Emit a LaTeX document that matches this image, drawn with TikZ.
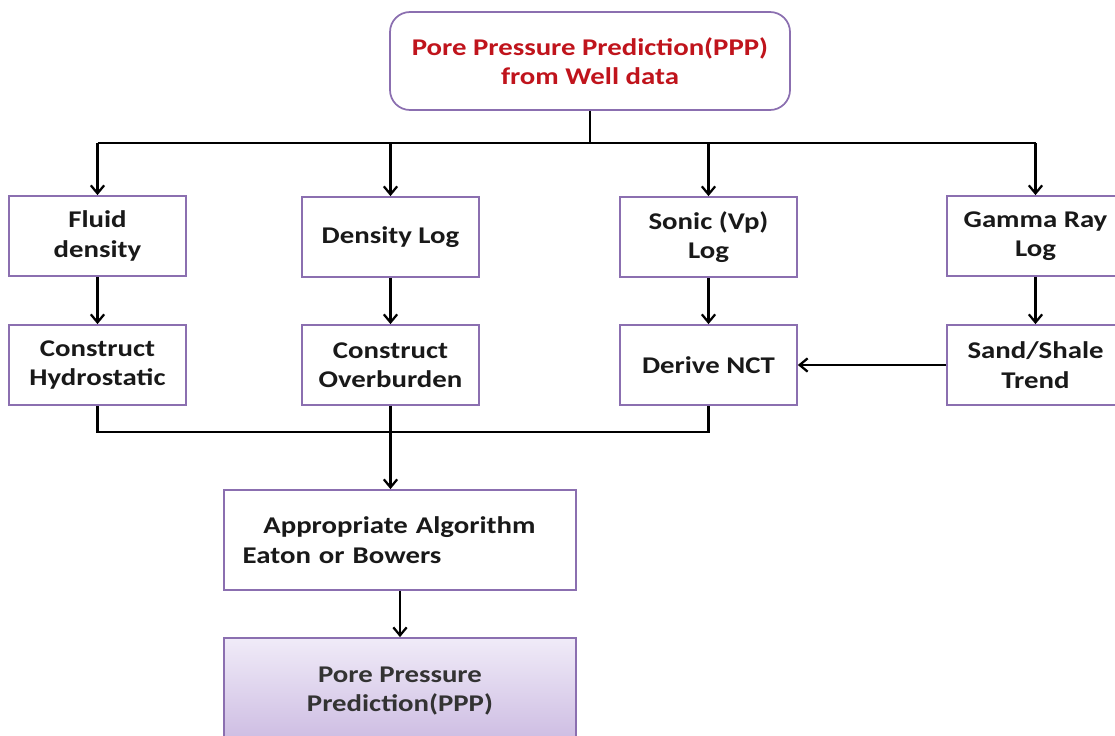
\documentclass[tikz,border=0pt]{standalone}
\usepackage{fontspec}
\setmainfont{Carlito}[FakeStretch=1.2]
\usetikzlibrary{
    arrows.meta,
    positioning
}
\definecolor{boxline}{HTML}{8B6FB0}
\definecolor{titlered}{HTML}{C0141C}
\definecolor{pppTop}{HTML}{F0EBF8}
\definecolor{pppBottom}{HTML}{C6B3DE}
\tikzset{
    every picture/.style = {
        > = {Straight Barb[length=6pt, width=10pt]},
        line width = 1.7pt,
        x = 0.75pt,
        y = -0.75pt
    },
    box/.style = {
        draw = boxline,
        line width = 1.3pt,
        fill = white,
        inner sep = 0pt,
        align = center,
        text = black!90,
        font = \fontsize{18}{22}\selectfont\bfseries,
        minimum width = 132.75pt,
        minimum height = 60pt
    },
    bigbox/.style = {
        box,
        minimum width = 264pt,
        minimum height = 75pt
    },
    titlebox/.style = {
        box,
        rounded corners = 15pt,
        text = titlered,
        minimum width = 300pt,
        minimum height = 73.5pt
    }
}

\begin{document}
\begin{tikzpicture}
    \useasboundingbox (0, 0) rectangle (1115, 736);

    \node[titlebox] (top) at (590, 61) {Pore Pressure Prediction(PPP)\\from Well data};

    % input data
    \node[box] (fluid) at (97.5, 236)  {Fluid\\density};
    \node[box] (dens)  at (390.5, 237) {Density Log};
    \node[box] (sonic) at (708.5, 237) {Sonic (Vp)\\Log};
    \node[box] (gamma) at (1035.5, 236) {Gamma Ray\\Log};

    % derived curves
    \node[box] (hydro) at (97.5, 365)  {Construct\\Hydrostatic};
    \node[box] (over)  at (390.5, 365) {Construct\\Overburden};
    \node[box] (nct)   at (708.5, 365) {Derive NCT};
    \node[box] (trend) at (1035.5, 365) {Sand/Shale\\Trend};

    \node[bigbox, text width = 236pt, align = left] (algo) at (400, 540)
        {\hspace*{15.5pt}Appropriate Algorithm\\Eaton or Bowers};
    \node[bigbox, minimum height = 93pt, top color = pppTop, bottom color = pppBottom,
        text = black!80] (ppp) at (400, 700) {Pore Pressure\\Prediction(PPP)\\[-6pt]};

    \coordinate (split) at (590, 143);
    \coordinate (join)  at (390.5, 432);

    \draw (top) -- (split);
    \draw (fluid.north |- split) -- (gamma.north |- split);
    \foreach \n in {fluid, dens, sonic, gamma}
        \draw[->] (\n.north |- split) -- (\n);

    \draw[->] (fluid) -- (hydro);
    \draw[->] (dens) -- (over);
    \draw[->] (sonic) -- (nct);
    \draw[->] (gamma) -- (trend);
    \draw[->] (trend) -- (nct);

    \draw (hydro.south) -- (hydro.south |- join) -- (nct.south |- join) -- (nct.south);
    \draw[->] (over.south) -- (over.south |- algo.north);
    \draw[->] (algo) -- (ppp);
\end{tikzpicture}
\end{document}
